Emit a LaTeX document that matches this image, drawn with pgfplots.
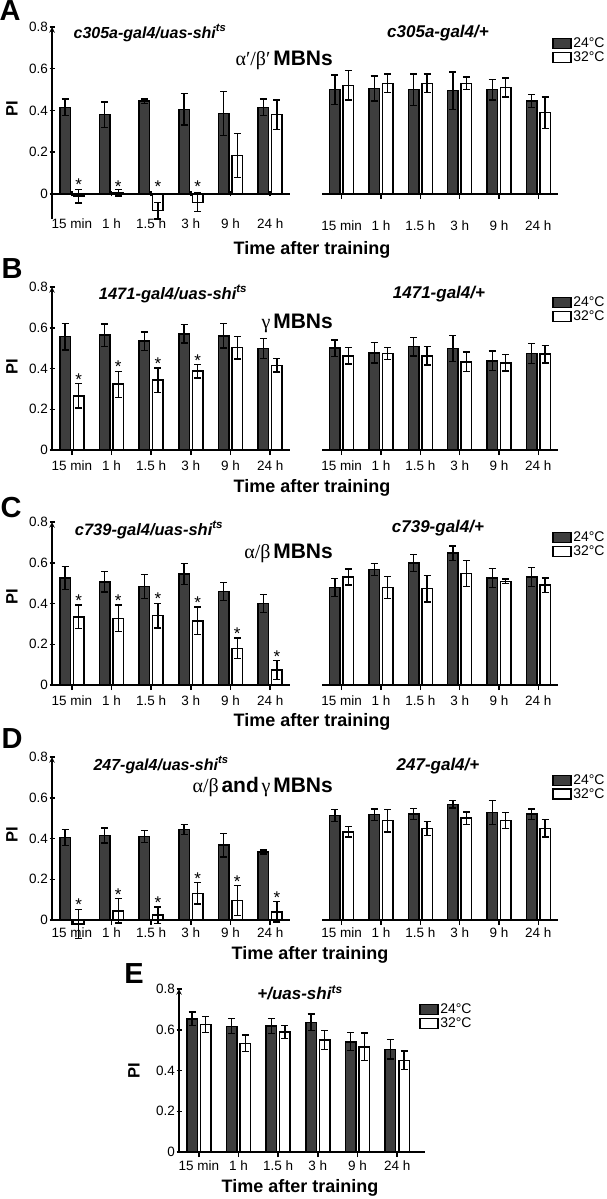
\documentclass[border=0pt]{standalone}
\usepackage{fontspec}
\setmainfont{Liberation Sans}
\newfontfamily\grk{Liberation Serif}
\usepackage{pgfplots}
\pgfplotsset{compat=1.18}
\definecolor{barfill}{RGB}{62,62,62}
\newcommand{\fs}[1]{\fontsize{#1}{#1}\selectfont}

\pgfplotsset{
  panel/.style={
    scale only axis, anchor=south west, clip=false,
    xmin=-0.5, xmax=5.5, ymax=0.8, ymin=0,
    xtick={0,...,5},
    xticklabels={15 min,1 h,1.5 h,3 h,9 h,24 h},
    ytick={0,0.2,0.4,0.6,0.8},
    axis x line=bottom,
    axis line style={-, line width=1.5pt},
    every inner x axis line/.append style={-},
    every outer x axis line/.append style={-},
    every inner y axis line/.append style={-},
    every outer y axis line/.append style={-},
    major tick style={line width=1.5pt, black},
    tick align=outside, major tick length=5pt,
    tick label style={font=\fs{13.5}, /pgf/number format/assume math mode=true},
    yticklabel style={inner sep=1.5pt},
    xticklabel style={inner sep=1pt},
    legend style={draw=none, fill=none, anchor=north west, font=\fs{14},
      inner sep=0pt, nodes={inner sep=1.5pt}},
    legend cell align=left,
  },
  leftp/.style={panel, axis y line=left, width=238pt, height=163pt},
  rightp/.style={panel, axis y line=none, width=236pt, height=163pt},
  bars/.style={ybar, bar width=10.5pt, draw=black, line width=1.5pt,
    legend image code/.code={\draw[##1, line width=1.5pt] (0pt,-5pt) rectangle (18pt,5pt);},
    /pgfplots/error bars/y dir=both, /pgfplots/error bars/y explicit,
    /pgfplots/error bars/error bar style={line width=1.3pt, black}},
  warm/.style={bars, /pgfplots/bar shift=-6.8pt, fill=barfill,
    /pgfplots/error bars/error bar style={xshift=-6.8pt},
    /pgfplots/error bars/error mark options={xshift=-6.8pt, rotate=90, mark size=3.5pt, line width=1.3pt, black}},
  hot/.style={bars, /pgfplots/bar shift=6.8pt, fill=white,
    /pgfplots/error bars/error bar style={xshift=6.8pt},
    /pgfplots/error bars/error mark options={xshift=6.8pt, rotate=90, mark size=3.5pt, line width=1.3pt, black}},
  stars/.style={forget plot, draw=none, mark=none, nodes near coords={*},
    every node near coord/.append style={anchor=base, xshift=6.8pt, yshift=-10pt,
      inner sep=0pt, font=\fs{17}}},
}

\begin{document}
\begin{tikzpicture}
\useasboundingbox (0,0) rectangle (606pt,-1199pt);

% ---------- A ----------
\begin{axis}[leftp, at={(52pt,-219pt)}, ymin=-0.12, height=192pt,
  axis x line=middle, every inner x axis line/.append style={-}, xticklabel style={yshift=-21pt}]
\addplot[warm] coordinates {(0,0.415) +- (0,0.04) (1,0.38) +- (0,0.06) (2,0.445) +- (0,0.01)
  (3,0.405) +- (0,0.075) (4,0.385) +- (0,0.105) (5,0.415) +- (0,0.04)};
\addplot[hot] coordinates {(0,-0.01) +- (0,0.033) (1,0.005) +- (0,0.015) (2,-0.08) +- (0,0.04)
  (3,-0.04) +- (0,0.045) (4,0.185) +- (0,0.105) (5,0.38) +- (0,0.07)};
\addplot[stars] coordinates {(0,0.065) (1,0.053) (2,0.053) (3,0.053)};
\end{axis}
\begin{axis}[rightp, at={(322pt,-194pt)}, height=167pt, xticklabel style={yshift=-21pt},
  legend style={at={(0.975,0.946)}}]
\addplot[warm] coordinates {(0,0.50) +- (0,0.07) (1,0.505) +- (0,0.06) (2,0.50) +- (0,0.075)
  (3,0.495) +- (0,0.09) (4,0.50) +- (0,0.05) (5,0.445) +- (0,0.03)};
\addplot[hot] coordinates {(0,0.52) +- (0,0.07) (1,0.53) +- (0,0.045) (2,0.53) +- (0,0.045)
  (3,0.53) +- (0,0.03) (4,0.51) +- (0,0.045) (5,0.39) +- (0,0.075)};
\legend{24°C,32°C}
\end{axis}

% ---------- B ----------
\begin{axis}[leftp, at={(52pt,-450pt)}, xticklabel style={yshift=-5pt}]
\addplot[warm] coordinates {(0,0.556) +- (0,0.065) (1,0.564) +- (0,0.055) (2,0.534) +- (0,0.045)
  (3,0.57) +- (0,0.045) (4,0.56) +- (0,0.06) (5,0.498) +- (0,0.05)};
\addplot[hot] coordinates {(0,0.266) +- (0,0.06) (1,0.323) +- (0,0.064) (2,0.343) +- (0,0.06)
  (3,0.387) +- (0,0.033) (4,0.502) +- (0,0.055) (5,0.416) +- (0,0.033)};
\addplot[stars] coordinates {(0,0.367) (1,0.428) (2,0.444) (3,0.46)};
\end{axis}
\begin{axis}[rightp, at={(322pt,-450pt)}, xticklabel style={yshift=-5pt},
  legend style={at={(0.975,0.951)}}]
\addplot[warm] coordinates {(0,0.50) +- (0,0.04) (1,0.477) +- (0,0.05) (2,0.507) +- (0,0.045)
  (3,0.498) +- (0,0.065) (4,0.438) +- (0,0.048) (5,0.474) +- (0,0.048)};
\addplot[hot] coordinates {(0,0.462) +- (0,0.04) (1,0.474) +- (0,0.03) (2,0.462) +- (0,0.045)
  (3,0.433) +- (0,0.048) (4,0.428) +- (0,0.04) (5,0.47) +- (0,0.043)};
\legend{24°C,32°C}
\end{axis}

% ---------- C ----------
\begin{axis}[leftp, at={(52pt,-685pt)}, xticklabel style={yshift=-5pt}]
\addplot[warm] coordinates {(0,0.525) +- (0,0.055) (1,0.506) +- (0,0.05) (2,0.483) +- (0,0.06)
  (3,0.545) +- (0,0.05) (4,0.46) +- (0,0.044) (5,0.40) +- (0,0.044)};
\addplot[hot] coordinates {(0,0.335) +- (0,0.057) (1,0.327) +- (0,0.065) (2,0.34) +- (0,0.06)
  (3,0.315) +- (0,0.068) (4,0.18) +- (0,0.05) (5,0.074) +- (0,0.046)};
\addplot[stars] coordinates {(0,0.433) (1,0.433) (2,0.444) (3,0.423) (4,0.273) (5,0.159)};
\end{axis}
\begin{axis}[rightp, at={(322pt,-685pt)}, xticklabel style={yshift=-5pt},
  legend style={at={(0.975,0.951)}}]
\addplot[warm] coordinates {(0,0.478) +- (0,0.044) (1,0.568) +- (0,0.03) (2,0.598) +- (0,0.042)
  (3,0.647) +- (0,0.036) (4,0.525) +- (0,0.047) (5,0.53) +- (0,0.047)};
\addplot[hot] coordinates {(0,0.53) +- (0,0.039) (1,0.478) +- (0,0.055) (2,0.473) +- (0,0.065)
  (3,0.548) +- (0,0.064) (4,0.509) +- (0,0.012) (5,0.49) +- (0,0.035)};
\legend{24°C,32°C}
\end{axis}

% ---------- D ----------
\begin{axis}[leftp, at={(52pt,-920pt)}, xticklabel style={yshift=-2pt}]
\addplot[warm] coordinates {(0,0.405) +- (0,0.038) (1,0.415) +- (0,0.037) (2,0.41) +- (0,0.03)
  (3,0.444) +- (0,0.025) (4,0.367) +- (0,0.058) (5,0.334) +- (0,0.01)};
\addplot[hot] coordinates {(0,-0.02) +- (0,0.07) (1,0.045) +- (0,0.06) (2,0.024) +- (0,0.04)
  (3,0.131) +- (0,0.053) (4,0.096) +- (0,0.075) (5,0.04) +- (0,0.05)};
\addplot[stars] coordinates {(0,0.096) (1,0.147) (2,0.107) (3,0.224) (4,0.211) (5,0.128)};
\end{axis}
\begin{axis}[rightp, at={(322pt,-920pt)}, xticklabel style={yshift=-2pt},
  legend style={at={(0.975,0.9)}, row sep=-1pt}]
\addplot[warm] coordinates {(0,0.512) +- (0,0.03) (1,0.517) +- (0,0.028) (2,0.52) +- (0,0.028)
  (3,0.568) +- (0,0.018) (4,0.528) +- (0,0.06) (5,0.52) +- (0,0.025)};
\addplot[hot] coordinates {(0,0.433) +- (0,0.025) (1,0.488) +- (0,0.056) (2,0.45) +- (0,0.035)
  (3,0.5) +- (0,0.03) (4,0.488) +- (0,0.038) (5,0.45) +- (0,0.043)};
\legend{24°C,32°C}
\end{axis}

% ---------- E ----------
\begin{axis}[leftp, at={(179pt,-1152pt)}, width=246pt, xmax=5.7, xticklabel style={yshift=-3pt},
  legend style={at={(0.976,0.92)}}]
\addplot[warm] coordinates {(0,0.654) +- (0,0.033) (1,0.617) +- (0,0.037) (2,0.618) +- (0,0.037)
  (3,0.636) +- (0,0.041) (4,0.541) +- (0,0.044) (5,0.504) +- (0,0.047)};
\addplot[hot] coordinates {(0,0.625) +- (0,0.039) (1,0.533) +- (0,0.041) (2,0.589) +- (0,0.031)
  (3,0.55) +- (0,0.047) (4,0.516) +- (0,0.068) (5,0.45) +- (0,0.046)};
\legend{24°C,32°C}
\end{axis}

% ---------- text ----------
\tikzset{lab/.style={font=\fs{29}\bfseries, inner sep=0pt},
  ttl/.style={font=\fs{16}\bfseries\itshape, inner sep=0pt},
  ttr/.style={font=\fs{17}\bfseries\itshape, inner sep=0pt},
  pil/.style={font=\fs{16.5}\bfseries, rotate=90, inner sep=0pt},
  tat/.style={font=\fs{18}\bfseries, inner sep=0pt}}
\node[lab] at (10pt,-11pt) {A};
\node[lab] at (12pt,-269pt) {B};
\node[lab] at (11pt,-508pt) {C};
\node[lab] at (12pt,-739pt) {D};
\node[lab] at (134pt,-974pt) {E};

\node[pil] at (12pt,-109pt) {PI};
\node[pil] at (12pt,-367pt) {PI};
\node[pil] at (12pt,-597pt) {PI};
\node[pil] at (12pt,-835pt) {PI};
\node[pil] at (134pt,-1071pt) {PI};

\node[ttl] at (150pt,-33pt) {c305a-gal4/uas-shi\textsuperscript{ts}};
\node[ttr] at (438pt,-33pt) {c305a-gal4/+};
\node[ttl, font=\fs{16.5}\bfseries\itshape] at (173pt,-294pt) {1471-gal4/uas-shi\textsuperscript{ts}};
\node[ttr] at (439pt,-294pt) {1471-gal4/+};
\node[ttl, font=\fs{16.5}\bfseries\itshape] at (149pt,-530pt) {c739-gal4/uas-shi\textsuperscript{ts}};
\node[ttr] at (438pt,-528pt) {c739-gal4/+};
\node[ttl] at (161pt,-765pt) {247-gal4/uas-shi\textsuperscript{ts}};
\node[ttr] at (438pt,-766pt) {247-gal4/+};
\node[ttl, font=\fs{17}\bfseries\itshape] at (300pt,-993pt) {+/uas-shi\textsuperscript{ts}};

\node[anchor=east, inner sep=0pt] at (333pt,-60pt) {{\grk\fs{20}α′/β′} {\fs{21}\bfseries MBNs}};
\node[anchor=east, inner sep=0pt] at (333pt,-323pt) {{\grk\fs{20}γ} {\fs{21}\bfseries MBNs}};
\node[anchor=east, inner sep=0pt] at (333pt,-553pt) {{\grk\fs{20}α/β} {\fs{21}\bfseries MBNs}};
\node[anchor=east, inner sep=0pt] at (333pt,-787pt) {{\grk\fs{20}α/β} {\fs{21}\bfseries and} {\grk\fs{20}γ} {\fs{21}\bfseries MBNs}};

\node[tat] at (312pt,-250pt) {Time after training};
\node[tat] at (312pt,-488pt) {Time after training};
\node[tat] at (312pt,-722pt) {Time after training};
\node[tat] at (310pt,-955pt) {Time after training};
\node[tat] at (300pt,-1188pt) {Time after training};
\end{tikzpicture}
\end{document}
